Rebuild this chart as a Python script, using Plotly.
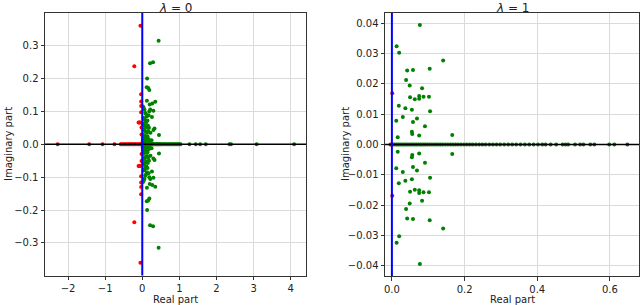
import plotly.graph_objects as go

# ---------------- data: lambda = 0 (left panel) ----------------
# green eigenvalues, complex (upper half; conjugates mirrored below)
g0_cx_re = [0.44, 0.21, 0.29, 0.13, 0.12, 0.16, 0.19, 0.27, 0.35, 0.125, 0.20, 0.215,
            0.19, 0.30, 0.125, 0.17, 0.26, 0.33, 0.30, 0.45, 0.02, 0.04, 0.06, 0.08,
            0.10, 0.03, 0.05, 0.07, 0.09, 0.11, 0.14, 0.02, 0.04, 0.06, 0.08, 0.12,
            0.15, 0.18, 0.03, 0.05, 0.07, 0.10, 0.13, 0.16, 0.22, 0.01, 0.03, 0.05,
            0.08, 0.11, 0.14, 0.02, 0.04, 0.07, 0.09, 0.12, 0.17, 0.01, 0.03, 0.06,
            0.09, 0.13, 0.20, 0.25, 0.02, 0.05, 0.08, 0.11, 0.15, 0.18]
g0_cx_im = [0.315, 0.246, 0.249, 0.200, 0.173, 0.171, 0.165, 0.124, 0.129, 0.132, 0.121,
            0.106, 0.100, 0.102, 0.085, 0.088, 0.083, 0.048, 0.043, 0.028, 0.115, 0.110,
            0.105, 0.095, 0.092, 0.080, 0.078, 0.075, 0.070, 0.068, 0.072, 0.062, 0.060,
            0.058, 0.055, 0.052, 0.057, 0.050, 0.045, 0.043, 0.040, 0.038, 0.036, 0.040,
            0.035, 0.030, 0.028, 0.026, 0.025, 0.022, 0.024, 0.018, 0.016, 0.015, 0.014,
            0.012, 0.016, 0.010, 0.008, 0.007, 0.006, 0.008, 0.010, 0.012, 0.004, 0.003,
            0.004, 0.003, 0.005, 0.002]
# green eigenvalues on the real axis
g0_real = [0.01, 0.02, 0.03, 0.04, 0.05, 0.06, 0.07, 0.08, 0.09, 0.10, 0.11, 0.12, 0.13,
           0.14, 0.15, 0.17, 0.19, 0.21, 0.23, 0.25, 0.27, 0.29, 0.31, 0.33, 0.35, 0.37,
           0.39, 0.41, 0.43, 0.45, 0.47, 0.49, 0.52, 0.55, 0.58, 0.61, 0.64, 0.67, 0.70,
           0.73, 0.76, 0.79, 0.82, 0.85, 0.88, 0.91, 0.94, 0.97, 1.00, 1.03, 1.27, 1.44,
           1.56, 1.71, 2.35, 2.39, 3.08, 4.09]
# red eigenvalues, complex (upper half)
r0_cx_re = [-0.05, -0.215, -0.10, -0.08, -0.06, -0.03, -0.03, -0.03, -0.03, -0.02, -0.02]
r0_cx_im = [0.360, 0.237, 0.066, 0.066, 0.066, 0.152, 0.130, 0.116, 0.097, 0.051, 0.030]
# red eigenvalues on the real axis
r0_real = [-2.28, -1.43, -1.07, -0.75, -0.58, -0.55, -0.51, -0.47, -0.44, -0.40, -0.37,
           -0.34, -0.30, -0.27, -0.24, -0.20, -0.17, -0.14, -0.10, -0.07, -0.04, -0.02]

# ---------------- data: lambda = 1 (right panel) ----------------
g1_cx_re = [0.077, 0.013, 0.020, 0.141, 0.104, 0.042, 0.058, 0.039, 0.049, 0.083, 0.050,
            0.063, 0.075, 0.075, 0.087, 0.102, 0.019, 0.037, 0.055, 0.105, 0.012, 0.030,
            0.069, 0.058, 0.091, 0.055, 0.056, 0.075, 0.016, 0.166]
g1_cx_im = [0.0394, 0.0324, 0.0303, 0.0277, 0.0250, 0.0244, 0.0246, 0.0213, 0.0195, 0.0186,
            0.0156, 0.0149, 0.0160, 0.0151, 0.0158, 0.0158, 0.0128, 0.0120, 0.0115, 0.0110,
            0.0078, 0.0091, 0.0086, 0.0074, 0.0060, 0.0042, 0.0035, 0.0030, 0.0024, 0.0031]
g1_real = [0.003, 0.008, 0.013, 0.018, 0.023, 0.028, 0.033, 0.038, 0.043, 0.048, 0.053,
           0.058, 0.063, 0.068, 0.073, 0.078, 0.083, 0.088, 0.093, 0.098, 0.104, 0.110,
           0.116, 0.122, 0.128, 0.134, 0.140, 0.147, 0.154, 0.161, 0.168, 0.175, 0.182,
           0.190, 0.198, 0.206, 0.214, 0.222, 0.231, 0.240, 0.249, 0.258, 0.268, 0.278,
           0.288, 0.298, 0.309, 0.320, 0.331, 0.342, 0.354, 0.366, 0.378, 0.390, 0.402,
           0.414, 0.423, 0.437, 0.452, 0.470, 0.478, 0.485, 0.504, 0.518, 0.527, 0.546,
           0.557, 0.598, 0.612, 0.648]
r1_re = [-0.004, 0.001, 0.001]
r1_im = [0.0, 0.0169, -0.0169]

GREEN = "#008000"
RED = "#ff0000"
MS = 4

fig = go.Figure()


def add_pts(x, y, color, xa, ya):
    fig.add_trace(go.Scatter(x=x, y=y, mode="markers", xaxis=xa, yaxis=ya,
                             marker=dict(color=color, size=MS, line=dict(width=0)),
                             showlegend=False, hoverinfo="skip"))


# left panel
add_pts(g0_cx_re + g0_cx_re, g0_cx_im + [-v for v in g0_cx_im], GREEN, "x", "y")
add_pts(g0_real, [0.0] * len(g0_real), GREEN, "x", "y")
add_pts(r0_cx_re + r0_cx_re, r0_cx_im + [-v for v in r0_cx_im], RED, "x", "y")
add_pts(r0_real, [0.0] * len(r0_real), RED, "x", "y")
# right panel
add_pts(g1_cx_re + g1_cx_re, g1_cx_im + [-v for v in g1_cx_im], GREEN, "x2", "y2")
add_pts(g1_real, [0.0] * len(g1_real), GREEN, "x2", "y2")
add_pts(r1_re, r1_im, RED, "x2", "y2")

FONT = "DejaVu Sans"
axis_common = dict(showgrid=True, gridcolor="#dadada", gridwidth=1, zeroline=False,
                   showline=True, linecolor="#333333", linewidth=1, mirror=True,
                   ticks="outside", ticklen=3.5, tickcolor="#333333",
                   tickfont=dict(family=FONT, size=10, color="#222222"))

fig.update_layout(
    width=640, height=305, margin=dict(l=0, r=0, t=0, b=0),
    plot_bgcolor="white", paper_bgcolor="white",
    font=dict(family=FONT, size=10, color="#222222"),
    xaxis=dict(domain=[45 / 640, 306 / 640], range=[-2.62, 4.41], dtick=1, tick0=0,
               anchor="y", **axis_common),
    yaxis=dict(domain=[1 - 275.5 / 305, 1 - 13 / 305], range=[-0.399, 0.399], dtick=0.1,
               tick0=0, tickformat=".1f", anchor="x", **axis_common),
    xaxis2=dict(domain=[385 / 640, 639 / 640], range=[-0.019, 0.68], dtick=0.2, tick0=0,
                tickformat=".1f", anchor="y2", **axis_common),
    yaxis2=dict(domain=[1 - 276 / 305, 1 - 13 / 305], range=[-0.0434, 0.0434], dtick=0.01,
                tick0=0, tickformat=".2f", anchor="x2", **axis_common),
)

# reference lines: y = 0 (black), x = 0 (blue)
for xa, ya in (("x", "y"), ("x2", "y2")):
    fig.add_shape(type="line", xref=f"{xa} domain", yref=ya, x0=0, x1=1, y0=0, y1=0,
                  line=dict(color="black", width=1.5), layer="above")
    fig.add_shape(type="line", xref=xa, yref=f"{ya} domain", x0=0, x1=0, y0=0, y1=1,
                  line=dict(color="blue", width=2), layer="above")

# titles and axis labels
ann = [
    dict(text="<i>λ</i> = 0", x=175.5 / 640, y=1 - 7.5 / 305, size=12, angle=0),
    dict(text="<i>λ</i> = 1", x=512 / 640, y=1 - 7.5 / 305, size=12, angle=0),
    dict(text="Real part", x=175.5 / 640, y=1 - 299 / 305, size=10, angle=0),
    dict(text="Real part", x=512 / 640, y=1 - 299 / 305, size=10, angle=0),
    dict(text="Imaginary part", x=8 / 640, y=1 - 144 / 305, size=10, angle=-90),
    dict(text="Imaginary part", x=345 / 640, y=1 - 144 / 305, size=10, angle=-90),
]
for a in ann:
    fig.add_annotation(text=a["text"], x=a["x"], y=a["y"], xref="paper", yref="paper",
                       xanchor="center", yanchor="middle", showarrow=False,
                       textangle=a["angle"], borderpad=0,
                       font=dict(family=FONT, size=a["size"], color="#222222"))

fig.write_html("out.html", config={"displayModeBar": False},
               post_script="document.body.style.margin='0';document.body.style.overflow='hidden';")
